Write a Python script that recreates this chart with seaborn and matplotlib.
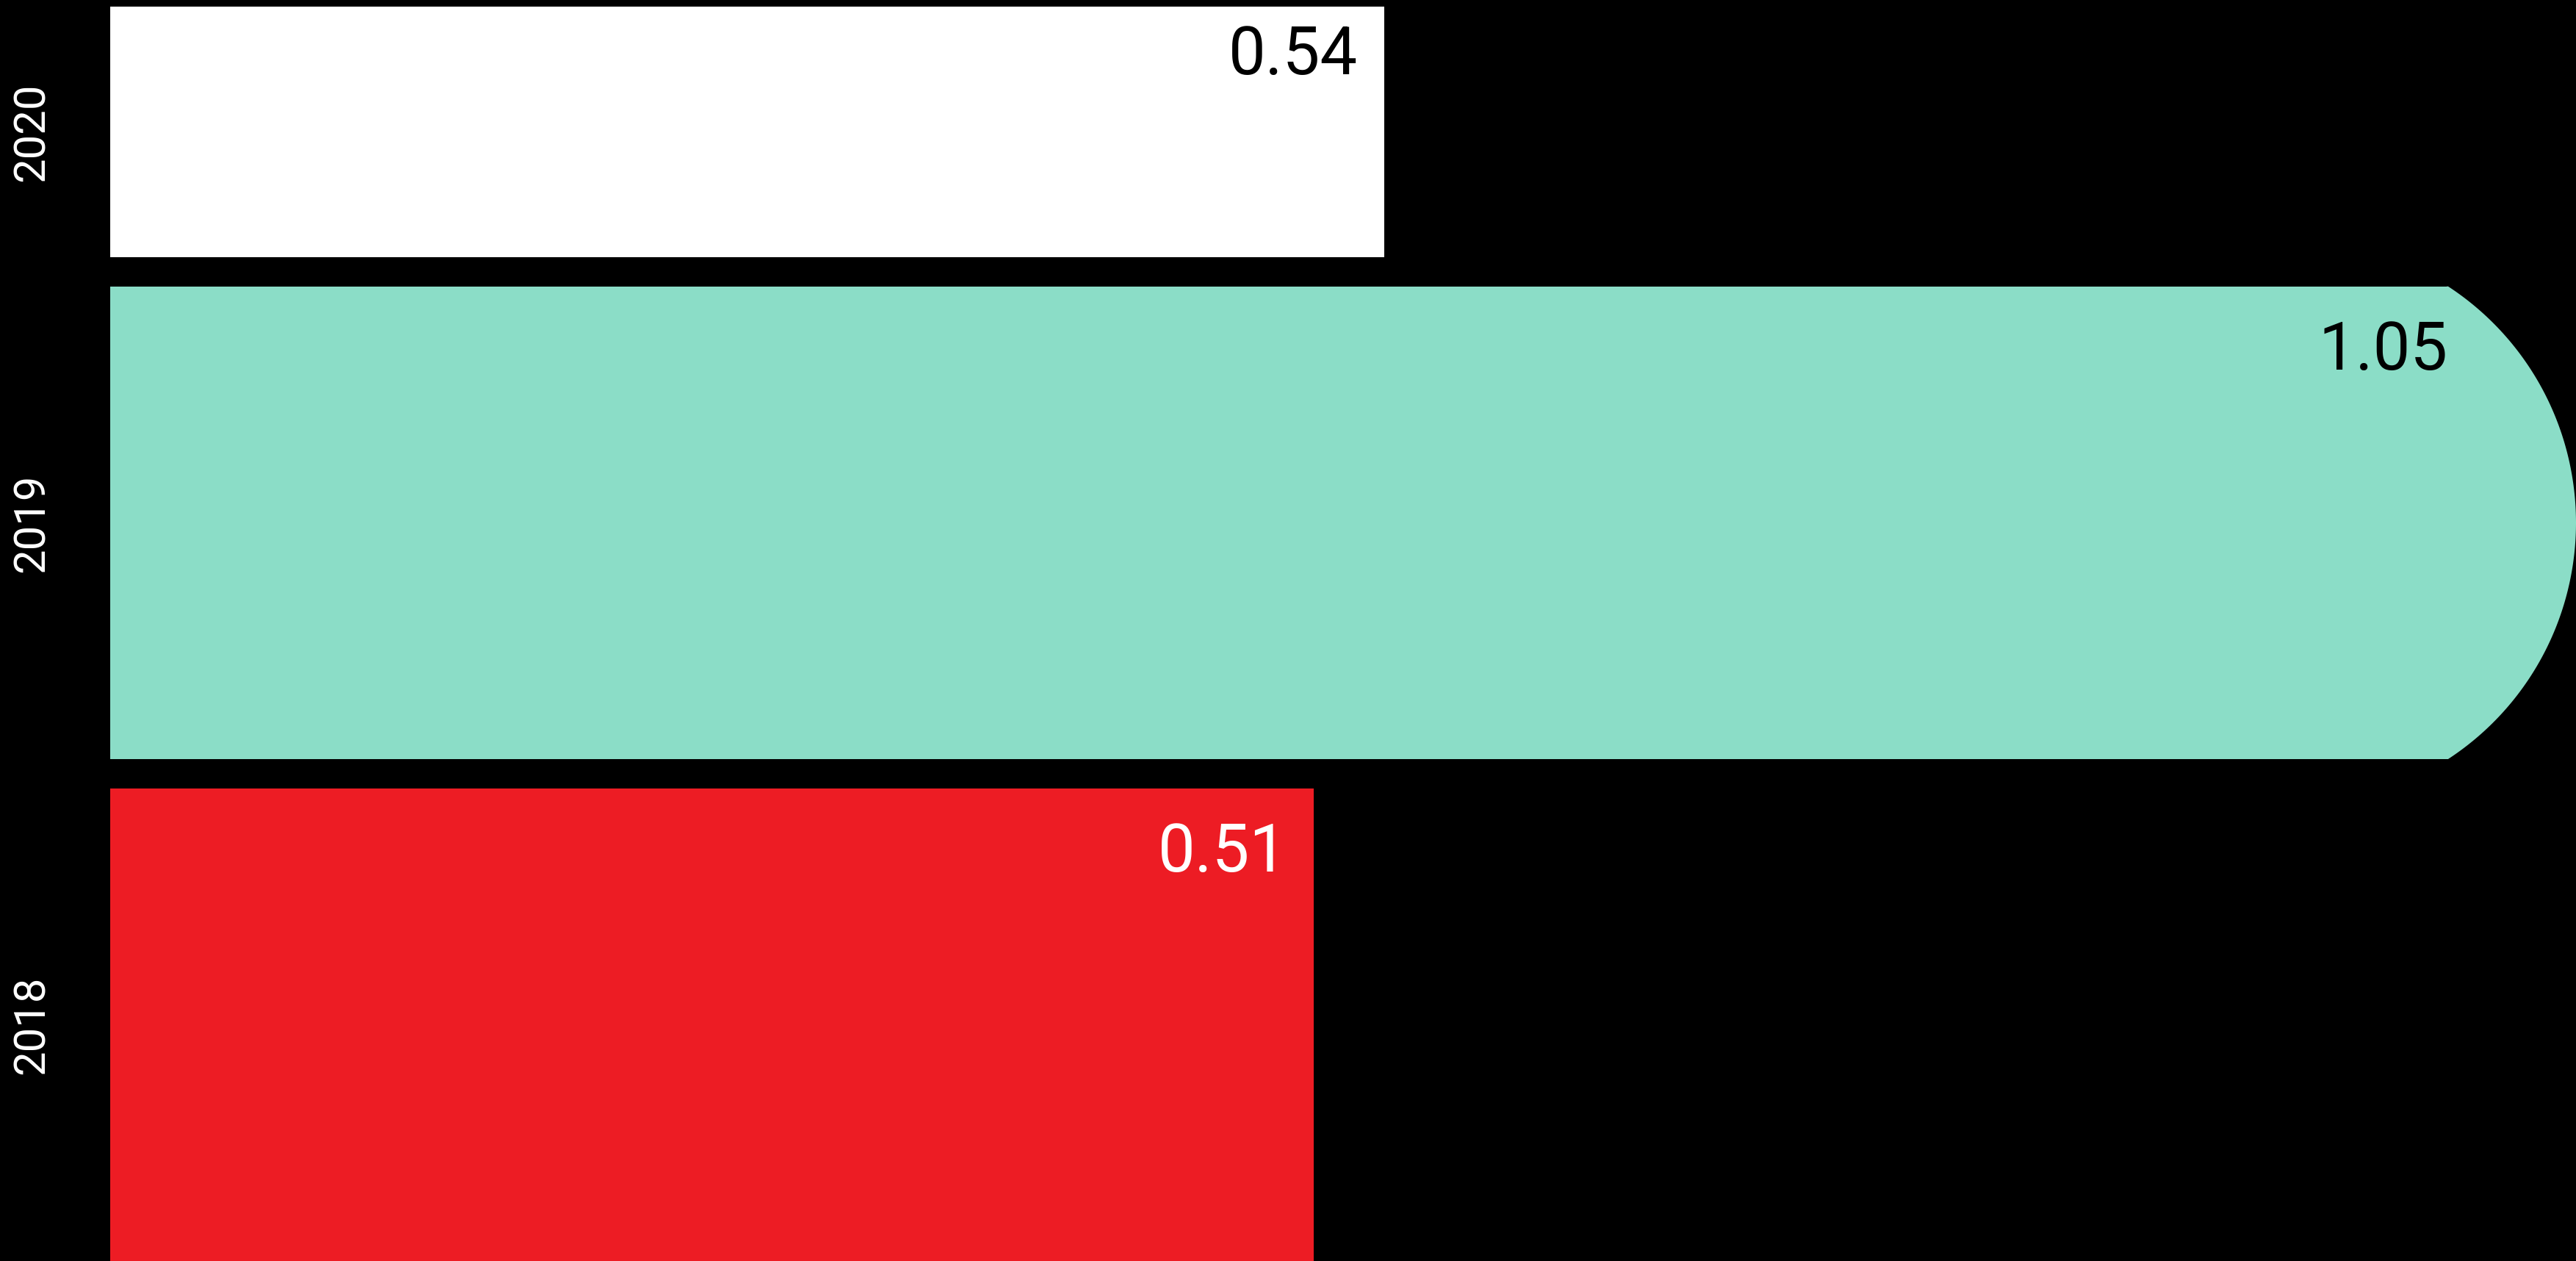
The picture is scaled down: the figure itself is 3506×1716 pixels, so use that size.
#Horizontal bar chart of yearly values on a black background
import numpy as np
import matplotlib
matplotlib.use('Agg')
import matplotlib.pyplot as plt
from matplotlib.patches import Polygon
import seaborn as sns

# Data
years = ['2020', '2019', '2018']
values = [0.54, 1.05, 0.51]
bar_weight = [0.53, 1.0, 1.0]   # relative bar thickness
bar_colors = ['#FFFFFF', '#8BDDC7', '#ED1C24']
label_colors = ['#000000', '#000000', '#FFFFFF']

W, H, DPI = 3506, 1716, 100

sns.set_theme(style='white')
plt.rcParams['font.family'] = ['Roboto', 'DejaVu Sans']

fig = plt.figure(figsize=(W / DPI, H / DPI), dpi=DPI, facecolor='black')
ax = fig.add_axes([150 / W, 0, (W - 150) / W, 1])
ax.set_facecolor('black')

sns.barplot(x=values, y=years, hue=years, palette=bar_colors, orient='h',
            legend=False, saturation=1, ax=ax, linewidth=0)

# Lay out the bars with variable thickness, top to bottom
gap = 0.062
top_margin = 0.014
cursor = 0
tops, centers = [], []
for i, w in enumerate(bar_weight):
    if i > 0:
        cursor += gap
    tops.append(cursor)
    centers.append(cursor + w / 2)
    cursor += w
ax.set_ylim(cursor, -top_margin)

xmax = 1.045
ax.set_xlim(0, xmax)

for cont, top, w in zip(ax.containers, tops, bar_weight):
    for bar in cont:
        bar.set_y(top)
        bar.set_height(w)

ax.set_yticks(centers)
ax.set_yticklabels(years, rotation=90, va='center', color='white', fontsize=43)
ax.tick_params(axis='y', length=0, pad=56)
ax.set_xticks([])
ax.set_xlabel('')
ax.set_ylabel('')
for s in ax.spines.values():
    s.set_visible(False)

px = 72 / DPI  # points per pixel
cap_depth = 174  # px, rounded end for bars running off the scale

for cont, v, top, w, lc in zip(ax.containers, values, tops, bar_weight, label_colors):
    bar = cont[0]
    end = v
    offset = -36 * px
    if v > xmax:
        # bar overflows: cut it and add a circular cap reaching the edge
        to_disp = ax.transData.transform
        x_right = to_disp((xmax, 0))[0]
        x_flat = x_right - cap_depth
        (_, y_a), (_, y_b) = to_disp([(0, top), (0, top + w)])
        yc = (y_a + y_b) / 2
        half = abs(y_a - y_b) / 2
        R = (half ** 2 + cap_depth ** 2) / (2 * cap_depth)
        phi = np.arcsin(half / R)
        ang = np.linspace(-phi, phi, 200)
        pts = np.column_stack([x_right - R + R * np.cos(ang), yc + R * np.sin(ang)])
        pts = np.vstack([[x_flat - 2, yc - half], pts, [x_flat - 2, yc + half]])
        pts_data = ax.transData.inverted().transform(pts)
        end = ax.transData.inverted().transform((x_flat, 0))[0]
        bar.set_width(end)
        ax.add_patch(Polygon(pts_data, closed=True, facecolor=bar.get_facecolor(),
                             edgecolor='none', clip_on=False))
        offset = 0
    ax.annotate(f'{v:.2f}', xy=(end, top + 0.07 * w), xytext=(offset, 0),
                textcoords='offset points', ha='right', va='top',
                fontsize=65, color=lc)

fig.savefig('out.png', dpi=DPI, facecolor='black')
